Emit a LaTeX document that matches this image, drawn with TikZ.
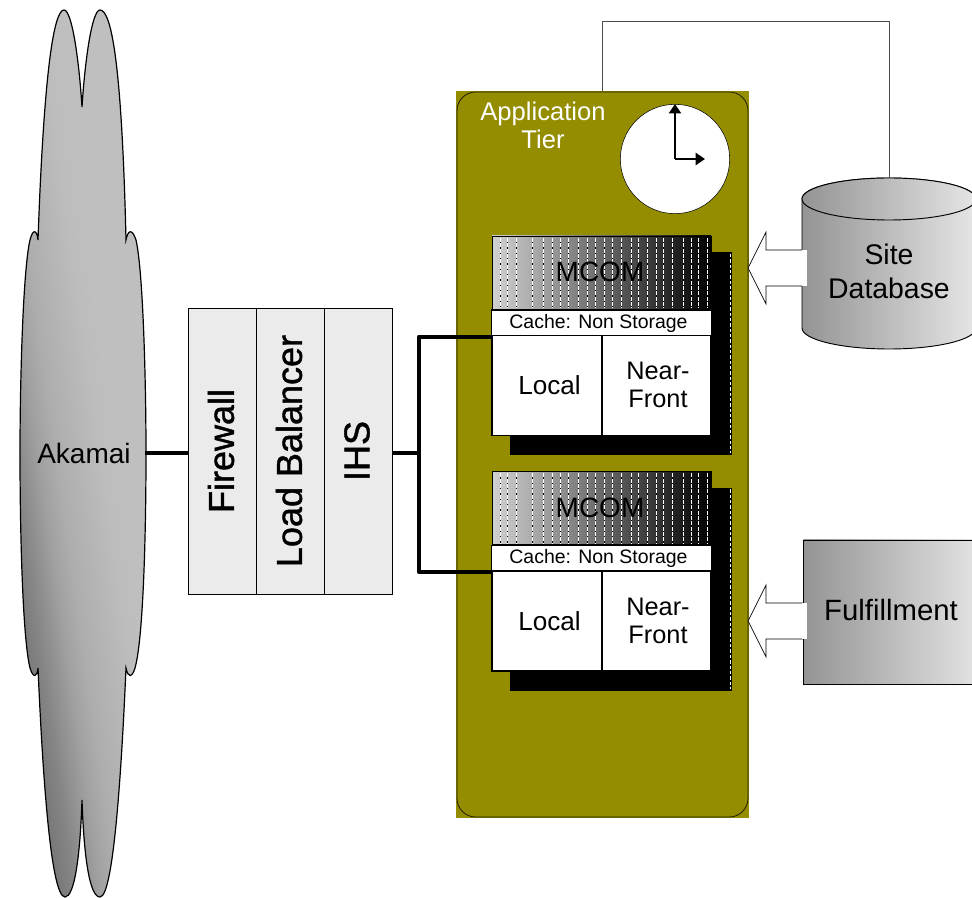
\documentclass[tikz,border=0pt]{standalone}
\usepackage{fontspec}
\setmainfont{Liberation Sans}
\newfontfamily\lbfont[FakeBold=1.2]{Liberation Sans}
\usepackage{xcolor}
\usetikzlibrary{arrows.meta,shapes.geometric}
\definecolor{tiergreen}{HTML}{948D00}
\definecolor{lbgray}{HTML}{EBEBEB}
\pgfdeclarehorizontalshading{cloudshade}{100bp}{
	color(0bp)=(black!60); color(25bp)=(black!60); color(34bp)=(black!48);
	color(40bp)=(black!37); color(44bp)=(black!32); color(54bp)=(black!26);
	color(58bp)=(black!25); color(100bp)=(black!25)}
\tikzset{
	lbbox/.style={draw=black,fill=lbgray,minimum width=51pt,minimum height=214.5pt,inner sep=0pt,line width=0.5pt},
	lbtext/.style={rotate=90,font=\lbfont\fontsize{27}{29}\selectfont,anchor=center},
	cachebox/.style={draw=black,fill=white,inner sep=0pt,line width=0.9pt},
	wire/.style={line width=3pt,black,line join=round},
	hollow/.style={draw=black,fill=white,line width=0.5pt},
	hand/.style={-{Triangle[length=7pt,width=9pt]},line width=1.8pt},
}
\newcommand{\serverblock}[2]{%
	% #1 = top y, #2 = suffix
	\fill[black] (510,#1+16.5) rectangle (732,#1+219.5);
	\fill[tiergreen] (510,#1-0.5) rectangle (492,#1+200);
	\draw[white,line width=0.4pt,dash pattern=on 2.5pt off 1.5pt] (730,#1+18)--(730,#1+217);
	\shade[left color=black!18,right color=black,draw=black] (492,#1) rectangle (711,#1+73);
	\foreach \x in {500,507,516,532,543,552,560,568,578,587,595,604,612,621,631,638,647,656,663,672,683,691,698,707} {
	\draw[white,line width=0.5pt,dash pattern=on 3pt off 1pt] (\x,#1+2)--(\x,#1+72);
	\draw[black,line width=0.5pt,dash pattern=on 1pt off 3pt,dash phase=1pt] (\x,#1+2)--(\x,#1+72);
	}
	\node[font=\fontsize{21}{24}\selectfont,text=black] (mcom#2) at (600,#1+36) {MCOM};
	\node[cachebox,minimum width=164.5pt,minimum height=19.5pt] (cache#2) at (601.5,#1+87) {};
	\node[font=\fontsize{14.6}{16}\selectfont] at (598.5,#1+87) {Cache: Non Storage};
	\node[cachebox,minimum width=82.5pt,minimum height=75pt] (local#2) at (547,#1+149.5) {};
	\node[font=\fontsize{19.6}{21}\selectfont] at (549.5,#1+149.5) {Local};
	\node[cachebox,minimum width=81.75pt,minimum height=75pt] (near#2) at (656.5,#1+149.5) {};
	\node[font=\fontsize{19}{21}\selectfont,align=center] at (658,#1+149) {Near-\\Front};
}
\begin{document}
\begin{tikzpicture}[x=0.75pt,y=-0.75pt]
	\useasboundingbox (0,0) rectangle (972,898);
	% cloud
	\path[draw=black,line width=0.9pt,shading=cloudshade,shading angle=8]
		(82,107) .. controls (79,60) and (72,10) .. (64,10) .. controls (54,10) and (44,70) .. (38,240)
		.. controls (37,230) and (33,228) .. (30,240) .. controls (23,270) and (20,380) .. (20,453)
		.. controls (20,540) and (23,640) .. (30,668) .. controls (33,678) and (37,678) .. (38,668)
		.. controls (42,760) and (50,897) .. (65,897) .. controls (74,897) and (80,860) .. (82,800)
		.. controls (84,860) and (90,897) .. (100,897) .. controls (114,897) and (122,760) .. (126,668)
		.. controls (128,678) and (132,678) .. (135,668) .. controls (143,640) and (146,540) .. (146,453)
		.. controls (146,380) and (143,270) .. (136,240) .. controls (132,228) and (128,230) .. (126,240)
		.. controls (122,70) and (112,10) .. (100,10) .. controls (92,10) and (85,60) .. (82,107) -- cycle;
	\node[font=\fontsize{21}{23}\selectfont] (akamai) at (84,453) {Akamai};
	\coordinate (cloudout) at (145,453);
	% load balancer
	\node[lbbox] (firewall) at (222,451) {};
	\node[lbbox] (balancer) at (290,451) {};
	\node[lbbox] (ihs) at (358,451) {};
	\node[lbtext] at (221,451) {Firewall};
	\node[lbtext] at (289,451) {Load Balancer};
	\node[lbtext] at (357,451) {IHS};
	% application tier
	\fill[tiergreen] (456,91) rectangle (749,818);
	\draw[line width=0.6pt,black!80!tiergreen,rounded corners=14pt] (457,92) rectangle (748,817);
	\node[align=center,text=white,font=\fontsize{19.2}{21}\selectfont] (apptier) at (543,125) {Application\\Tier};
	\node[circle,draw=black,fill=white,minimum size=82pt,inner sep=0pt] (clock) at (675,159) {};
	\draw[hand] (clock.center) -- (clock.north);
	\draw[hand] (clock.center) -- ++(30,0);
	\serverblock{236}{a}
	\serverblock{471.5}{b}
	% site database
	\coordinate (dbtop) at (889,178);
	\shade[left color=black!42,right color=black!10,draw=black,line width=0.7pt] (802,199) -- (802,328) arc (180:0:87 and 21) -- (976,199) arc (0:-180:87 and 21) -- cycle;
	\shade[left color=black!42,right color=black!10,draw=black,line width=0.7pt] (889,199) ellipse (87 and 21);
	\node[align=center,font=\fontsize{21.3}{25.5}\selectfont] (sitedb) at (889,271.5) {Site\\Database};
	\draw[line width=0.5pt,black!70] (dbtop) -- (889,21) -- (602,21) -- (602,91);
	% fulfillment
	\node[draw=black,left color=black!42,right color=black!10,minimum width=135pt,minimum height=108pt,inner sep=0pt,anchor=west] (fulfil) at (803,612) {};
	\node[font=\fontsize{22}{24}\selectfont] at (891,610) {Fulfillment};
	% hollow arrows
	\draw[hollow] (802,250) -- (766,250) -- (766,232) -- (748,268) -- (766,304) -- (766,286) -- (802,286);
	\fill[white] (802,250.3) rectangle (807,285.7);
	\draw[hollow] (803,603) -- (766,603) -- (766,585) -- (748,621) -- (766,657) -- (766,639) -- (803,639);
	\fill[white] (802,603.3) rectangle (807,638.7);
	% wires
	\coordinate (bus) at (419,453);
	\draw[wire] (cloudout) -- (firewall.west |- cloudout);
	\draw[wire] (ihs.east |- bus) -- (bus);
	\draw[wire] (cachea.south west) -| (bus);
	\draw[wire] (cacheb.south west) -| (bus);
\end{tikzpicture}
\end{document}
